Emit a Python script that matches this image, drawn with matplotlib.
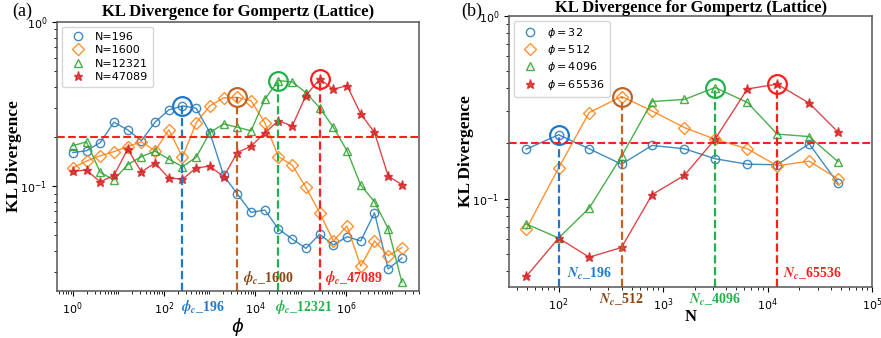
import matplotlib
matplotlib.use('Agg')
import matplotlib.pyplot as plt
import numpy as np
from matplotlib.ticker import NullFormatter, LogLocator, FixedLocator

# ---- panel (a): KL vs phi for several lattice sizes ----
phi = [1, 2, 4, 8, 16, 32, 64, 128, 256, 512, 1024, 2048, 4096, 8192,
       16384, 32768, 65536, 131072, 262144, 524288, 1048576, 2097152,
       4194304, 8388608, 16777216]
a_labels = ['N=196', 'N=1600', 'N=12321', 'N=47089']
kl_n196 = [0.160, 0.164, 0.184, 0.245, 0.220, 0.189, 0.245, 0.291, 0.308,
           0.298, 0.211, 0.116, 0.0894, 0.0691, 0.0714, 0.0547, 0.0475,
           0.0417, 0.0508, 0.0437, 0.0491, 0.0462, 0.0687, 0.0312, 0.0364]
kl_n1600 = [0.129, 0.142, 0.153, 0.162, 0.174, 0.186, 0.164, 0.220, 0.150,
            0.243, 0.308, 0.345, 0.347, 0.331, 0.243, 0.151, 0.134, 0.0982,
            0.0687, 0.0462, 0.0570, 0.0325, 0.0462, 0.0376, 0.0421]
kl_n12321 = [0.176, 0.186, 0.121, 0.109, 0.135, 0.151, 0.163, 0.146, 0.131,
             0.150, 0.212, 0.239, 0.228, 0.217, 0.338, 0.439, 0.431, 0.371,
             0.300, 0.228, 0.164, 0.101, 0.0802, 0.0549, 0.0259]
kl_n47089 = [0.123, 0.125, 0.106, 0.116, 0.168, 0.122, 0.138, 0.112, 0.110,
             0.129, 0.132, 0.114, 0.160, 0.175, 0.211, 0.250, 0.232, 0.356,
             0.449, 0.389, 0.409, 0.275, 0.212, 0.115, 0.102]
a_series = [kl_n196, kl_n1600, kl_n12321, kl_n47089]
a_peak_idx = [8, 12, 15, 18]
a_notes = ['_196', '_1600', '_12321', '_47089']
a_xticks = [1, 1e2, 1e4, 1e6]

# ---- panel (b): KL vs N for several phi ----
n_sizes = [49, 100, 196, 400, 784, 1600, 3136, 6400, 12321, 24964, 47089]
b_labels = [r'$\phi = 32$', r'$\phi = 512$', r'$\phi = 4096$', r'$\phi = 65536$']
kl_p32 = [0.186, 0.223, 0.187, 0.154, 0.195, 0.187, 0.165, 0.154, 0.153,
          0.199, 0.121]
kl_p512 = [0.068, 0.147, 0.295, 0.361, 0.301, 0.244, 0.211, 0.187, 0.151,
           0.160, 0.128]
kl_p4096 = [0.0727, 0.0608, 0.0886, 0.170, 0.339, 0.348, 0.404, 0.335,
            0.225, 0.218, 0.159]
kl_p65536 = [0.0375, 0.0608, 0.0478, 0.054, 0.105, 0.134, 0.211, 0.397,
             0.422, 0.332, 0.231]
b_series = [kl_p32, kl_p512, kl_p4096, kl_p65536]
b_peak_idx = [1, 3, 6, 8]
b_notes = ['_196', '_512', '_4096', '_65536']

threshold = 0.2

series_colors = ['C0', 'C1', 'C2', 'C3']
markers = ['o', 'D', '^', '*']
msizes = [6, 6, 6, 6.5]
hl_colors = ['#1f78c8', '#c0642a', '#22b14c', '#ff1f1f']
txt_colors = ['#1f78c8', '#8b4513', '#22b14c', '#ff1f1f']

plt.rcParams['mathtext.fontset'] = 'dejavusans'
serif = ['Liberation Serif', 'DejaVu Serif']

fig = plt.figure(figsize=(8.81, 3.38), dpi=100)
ax_a = fig.add_axes([0.0647, 0.139, 0.411, 0.796])
ax_b = fig.add_axes([0.578, 0.152, 0.412, 0.802])


def draw_series(ax, x, series, labels):
    for i, y in enumerate(series):
        fc = series_colors[i] if markers[i] == '*' else 'none'
        ax.plot(x, y, '-', color=series_colors[i], lw=1, alpha=0.85,
                marker=markers[i], ms=msizes[i], mfc=fc,
                mec=series_colors[i], mew=1)
        ax.plot([], [], ls='none', marker=markers[i], ms=msizes[i], mfc=fc,
                mec=series_colors[i], mew=1, alpha=0.85, label=labels[i])


def draw_peaks(ax, x, series, peaks, ybot):
    for i, (s, k) in enumerate(zip(series, peaks)):
        ax.vlines(x[k], ybot, s[k], colors=hl_colors[i], linestyles='--',
                  lw=1.6)
        ax.plot(x[k], s[k], 'o', ms=13.5, mfc='none', mec=hl_colors[i],
                mew=1.6)


def style_axes(ax, title, ylim, xlim, pad):
    ax.set_xscale('log')
    ax.set_yscale('log')
    ax.set_xlim(*xlim)
    ax.set_ylim(*ylim)
    ax.axhline(threshold, color='#ff1f1f', ls='--', lw=1.5)
    ax.set_title(title, fontfamily=serif, fontweight='bold', fontsize=12,
                 pad=pad)
    ax.set_ylabel('KL Divergence', fontfamily=serif, fontweight='bold',
                  fontsize=12.5)
    ax.yaxis.set_label_coords(-0.098, 0.5)
    ax.tick_params(labelsize=8)
    ax.yaxis.set_minor_formatter(NullFormatter())
    ax.xaxis.set_minor_formatter(NullFormatter())
    for sp in ax.spines.values():
        sp.set_color('#555555')
        sp.set_linewidth(1.1)


leg_kw = dict(loc='upper left', fontsize=8, handletextpad=0.5,
              borderpad=0.45, labelspacing=0.3, borderaxespad=0.45)

# panel (a)
ylim_a = (0.0229, 1.0)
draw_series(ax_a, phi, a_series, a_labels)
draw_peaks(ax_a, phi, a_series, a_peak_idx, ylim_a[0])
style_axes(ax_a, 'KL Divergence for Gompertz (Lattice)', ylim_a,
           (0.45, 4.0e7), 4)
ax_a.xaxis.set_major_locator(FixedLocator(a_xticks))
ax_a.xaxis.set_minor_locator(LogLocator(base=10, subs=np.arange(1, 10),
                                        numticks=40))
ax_a.set_xlabel(r'$\phi$', fontsize=13, labelpad=-1)
ax_a.legend(**leg_kw)

a_note_y = [-0.026, 0.015, -0.026, 0.015]
a_note_va = ['top', 'bottom', 'top', 'bottom']
a_note_f = [0.92, 1.3, 0.85, 1.3]
for i, k in enumerate(a_peak_idx):
    ax_a.text(phi[k] * a_note_f[i], a_note_y[i],
              r'$\mathbfit{\phi_c}$' + a_notes[i],
              transform=ax_a.get_xaxis_transform(), color=txt_colors[i],
              fontfamily=serif, fontweight='bold', fontsize=10,
              math_fontfamily='stix', ha='left', va=a_note_va[i])

# panel (b)
ylim_b = (0.033, 1.0)
draw_series(ax_b, n_sizes, b_series, b_labels)
draw_peaks(ax_b, n_sizes, b_series, b_peak_idx, ylim_b[0])
style_axes(ax_b, 'KL Divergence for Gompertz (Lattice)', ylim_b,
           (33.7, 1.0e5), 2)
ax_b.set_xlabel('N', fontfamily=serif, fontweight='bold', fontsize=12,
                labelpad=-3)
ax_b.legend(**leg_kw)

b_note_y = [0.017, -0.02, -0.02, 0.017]
b_note_va = ['bottom', 'top', 'top', 'bottom']
b_note_ha = ['left', 'center', 'center', 'left']
b_note_f = [1.2, 1.0, 1.0, 1.15]
for i, k in enumerate(b_peak_idx):
    ax_b.text(n_sizes[k] * b_note_f[i], b_note_y[i],
              r'$\mathbfit{N_c}$' + b_notes[i],
              transform=ax_b.get_xaxis_transform(), color=txt_colors[i],
              fontfamily=serif, fontweight='bold', fontsize=10,
              math_fontfamily='stix', ha=b_note_ha[i], va=b_note_va[i])

fig.text(0.0136, 0.967, '(a)', fontfamily=serif, fontsize=13, va='center')
fig.text(0.523, 0.967, '(b)', fontfamily=serif, fontsize=13, va='center')

fig.savefig('out.png', dpi=100)
